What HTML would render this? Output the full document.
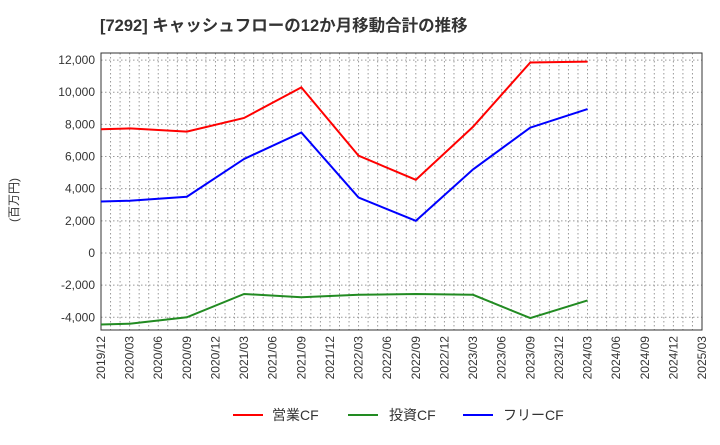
<!DOCTYPE html>
<html><head><meta charset="utf-8"><style>
body{margin:0;background:#fff;font-family:"Liberation Sans","Noto Sans CJK JP",sans-serif}
</style></head><body>
<svg id="c" width="720" height="440" xmlns="http://www.w3.org/2000/svg">
<text x="100" y="31" font-size="16.5" font-weight="bold" fill="#333" font-family="Liberation Sans,Noto Sans CJK JP,sans-serif">[7292]  キャッシュフローの12か月移動合計の推移</text>
<text transform="translate(18,200) rotate(-90)" text-anchor="middle" font-size="12" fill="#333" font-family="Liberation Sans,Noto Sans CJK JP,sans-serif">(百万円)</text>
<g id="grid"></g><g id="axes"></g><g id="series"></g>
<g font-size="14" fill="#333" font-family="Liberation Sans,Noto Sans CJK JP,sans-serif">
<line x1="233" y1="415" x2="263" y2="415" stroke="#f00" stroke-width="2"/><text x="272" y="420">営業CF</text>
<line x1="348" y1="415" x2="378" y2="415" stroke="#228b22" stroke-width="2"/><text x="389" y="420">投資CF</text>
<line x1="463" y1="415" x2="493" y2="415" stroke="#00f" stroke-width="2"/><text x="503" y="420">フリーCF</text>
</g>
</svg>
<script>
const xTicks=["2019/12","2020/03","2020/06","2020/09","2020/12","2021/03","2021/06","2021/09","2021/12","2022/03","2022/06","2022/09","2022/12","2023/03","2023/06","2023/09","2023/12","2024/03","2024/06","2024/09","2024/12","2025/03"];
const yTicks=[-4000,-2000,0,2000,4000,6000,8000,10000,12000];
const pointQuarters=[0,1,3,5,7,9,11,13,15,17];
const operatingCF=[7700,7750,7550,8400,10300,6050,4550,7850,11850,11900];
const investingCF=[-4450,-4400,-4000,-2550,-2750,-2600,-2550,-2600,-4050,-2950];
const freeCF=[3200,3250,3500,5850,7500,3450,2000,5200,7800,8950];
const L=101,R=702,T=53,B=330,yMin=-4790,yMax=12440;
const NS="http://www.w3.org/2000/svg";
const X=q=>L+(R-L)*q/21, Y=v=>B-(v-yMin)/(yMax-yMin)*(B-T);
function mk(p,t,a){const e=document.createElementNS(NS,t);for(const k in a)e.setAttribute(k,a[k]);p.appendChild(e);return e;}
const g=document.getElementById('grid'),ax=document.getElementById('axes'),s=document.getElementById('series');
for(let m=1;m<63;m++){const l=mk(g,'line',{x1:L+(R-L)*m/63,x2:L+(R-L)*m/63,y1:T,y2:B,stroke:'#999','stroke-dasharray':'1.5,2.5'});

}
yTicks.forEach(v=>{const l=mk(g,'line',{x1:L,x2:R,y1:Y(v),y2:Y(v),stroke:'#999','stroke-dasharray':'1.5,2.5'});


const t=mk(ax,'text',{x:L-6,y:Y(v)+4,'text-anchor':'end','font-size':12,fill:'#333'});t.textContent=v.toLocaleString('en-US');

});
xTicks.forEach((d,i)=>{const t=mk(ax,'text',{transform:`translate(${X(i)+4},${B+6}) rotate(-90)`,'text-anchor':'end','font-size':12,fill:'#333'});t.textContent=d;

});
const fr=mk(ax,'rect',{x:L,y:T,width:R-L,height:B-T,fill:'none',stroke:'#333'});


[[operatingCF,'#f00','operating-cf-line'],[investingCF,'#228b22','investing-cf-line'],[freeCF,'#00f','free-cf-line']].forEach(([d,c,n])=>{
const p=mk(s,'polyline',{points:d.map((v,i)=>X(pointQuarters[i])+','+Y(v)).join(' '),fill:'none',stroke:c,'stroke-width':2});

});
</script>
</body></html>
